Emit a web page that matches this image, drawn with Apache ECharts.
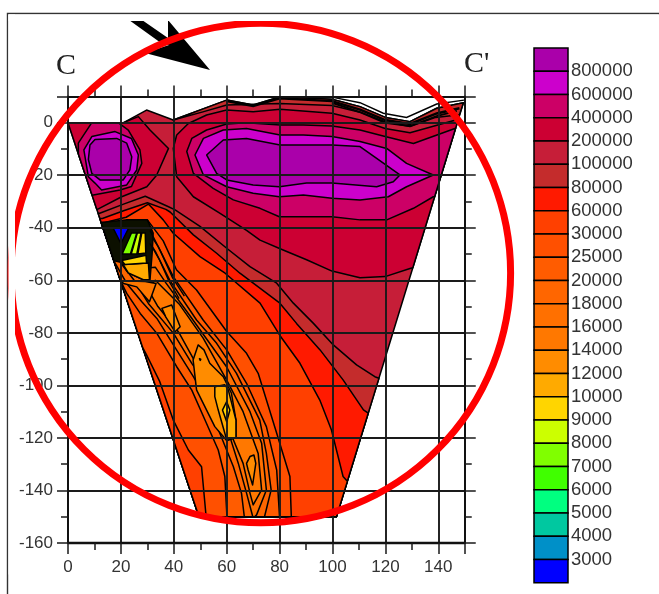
<!DOCTYPE html>
<html>
<head>
<meta charset="utf-8">
<style>
html, body { margin: 0; padding: 0; background: #fff; }
#chart { width: 659px; height: 594px; }
</style>
<script src="https://cdn.jsdelivr.net/npm/echarts@6/dist/echarts.min.js"></script>
</head>
<body>
<div id="chart"></div>
<script>
// colour scale, top cell to bottom cell
var cellColors = ['#aa00aa', '#cc00cc', '#cc0066', '#cc0033', '#c61e38', '#c42c2c', '#ff1a00', '#ff4000',
    '#ff5000', '#ff5c00', '#ff6600', '#ff7000', '#ff7800', '#ff8c00', '#ffaa00', '#ffd500',
    '#ccff00', '#80ff00', '#40ff00', '#00ff80', '#00c8a0', '#0090c8', '#0000ff'];
var cellLabels = ['800000', '600000', '400000', '200000', '100000', '80000', '60000', '30000', '25000', '20000', '18000',
    '16000', '14000', '12000', '10000', '9000', '8000', '7000', '6000', '5000', '4000', '3000'];

// section outline (distance, depth)
var section = [[0, 0], [21, 0], [29.7, 4.8], [39.8, 1], [60, 8.6], [70, 6.7], [80, 9.8], [99.8, 8.9], [110.4, 6.1], [120, 2],
    [129.3, 0.4], [139.4, 5.5], [149.5, 7.6], [101.5, -150], [49.5, -150]];

// contours, high resistivity side
var surfaceBand = [[39.8, 1], [60, 8.6], [70, 6.7], [80, 9.8], [99.8, 8.9], [110.4, 6.1], [120, 2], [129.3, 0.4], [139.4, 5.5], [149.5, 7.6],
    [148, 3], [139, 2], [129.3, -1.5], [120, 0.3], [110.4, 4], [99.8, 6.5], [80, 7.3], [60, 6.7], [51, 4.1]];
var left200k = [[0, 0], [21, 0], [26.6, 2.3], [31, -2.8], [38, -9.8], [33.5, -20], [29.8, -24.4], [20.3, -28.2], [10.8, -33.2], [-5, -33], [-5, 0]];
var left400k = [[9, 0], [3.9, -7.8], [4, -18], [5, -27], [9.6, -27.5], [19.7, -25.6], [24, -24.3], [27.9, -15.5], [27.2, -10.4], [22.8, -2.8], [19, 0]];
var left600k = [[6, -10.4], [9, -5.3], [17.8, -3.4], [24, -6], [26.6, -12.3], [26, -18], [22.2, -23.7], [12.7, -25.6], [10.2, -23], [7.7, -20.6]];
var left800k = [[8.3, -8.5], [10.2, -6.4], [18.4, -6], [22.2, -7.8], [24.1, -13], [23.4, -18], [20.9, -21.8], [12.1, -21.8], [9, -19.3], [7.7, -14]];
var right200k = [[39.8, -9.8], [41.1, -4.7], [45.5, -0.3], [52.4, 2.9], [60, 4.8], [70, 4.2], [80.2, 5.1], [99.8, 3.6], [110.4, 1], [119.9, -2.2],
    [129.3, -3.8], [150, 2], [150, -50], [129.3, -55.5], [119.9, -58.6], [110.4, -59], [99.8, -56.5], [90.2, -52.2], [80.2, -48], [72.6, -44.7],
    [67.5, -41], [57.5, -34.5], [47.4, -28.2], [41.1, -20.6]];
var right400k = [[44.9, -11], [46.8, -6], [52.4, -2.8], [60, -0.5], [67.5, 0], [80.2, -0.9], [89, -0.9], [99.8, -1.3], [110.4, -2.8], [119.9, -5.3],
    [130.6, -7.9], [150, -0.9], [150, -28], [138.1, -28.2], [130.6, -32.6], [120.5, -37], [110.4, -37], [99.8, -35.8], [79.9, -35.8],
    [72.6, -32.6], [62.5, -29.4], [54.9, -25], [47.4, -19.3]];
var right600k = [[48, -12.3], [51.2, -6], [58.7, -2.8], [67.5, -2.2], [80.2, -4.7], [89, -4.7], [99.8, -5.3], [110.4, -7.2], [120.5, -9.8], [128, -15.5],
    [138.1, -19.9], [128, -24.4], [121.1, -28.2], [110.4, -29.4], [99.8, -28.8], [89, -27.5], [79.9, -28.2], [70, -26.9], [60, -24.4], [51.2, -19.9]];
var right800k = [[52.4, -12.3], [58.7, -6.6], [67.5, -6], [80.2, -8.5], [99.8, -8.5], [110.4, -9.1], [116.7, -13.6], [125.5, -19.9], [123, -22.5],
    [116.7, -24.4], [99.8, -23], [90.2, -23], [79.9, -24.4], [70, -23.7], [60, -21.8], [56.2, -19.3]];

// low resistivity side, each one nested in the one before
var band100k = [[5, -34.5], [12, -34.5], [21, -31], [29.2, -28], [38, -32], [40.5, -33.2], [49.9, -39.5], [60, -47.8], [68.8, -54.8], [78.9, -61.1], [85.2, -68.7],
    [92.8, -76.4], [100.3, -84.6], [109.1, -92.2], [116, -96.7], [125, -100], [125, -155], [0, -155]];
var band80k = [[5, -36], [13, -36.5], [21, -33.5], [30, -30.5], [37, -33], [38.6, -34], [47.4, -42.7], [56.2, -49.7], [65, -57.3], [80.1, -68.7], [86.4, -76.4],
    [95.3, -86.5], [104, -97.9], [111.7, -109.3], [120, -115], [120, -155], [0, -155]];
var band60k = [[5, -38], [14, -38], [22, -36], [30.4, -31], [36, -37], [39.8, -42.1], [49.9, -51], [59.4, -57.3], [72.6, -68.7], [80.1, -81], [87.7, -91.6],
    [95.2, -105.6], [99.6, -117], [104, -134.7], [106, -137], [112, -138], [110, -155], [0, -155]];
var band30k = [[30, -37], [36, -45], [41, -56], [48.6, -63.7], [60, -79.5], [67.5, -87.8], [71.9, -95.4], [78.9, -118.2], [83.9, -134.7], [84.5, -152],
    [52.4, -152], [50.5, -131], [45.5, -124.6], [39.8, -113.2], [34.7, -98.6], [29.7, -88.4], [20, -70], [5, -40]];
var band25k = [[29.1, -39.5], [34.1, -47.2], [39.8, -58.6], [51.1, -75.1], [60, -86.5], [67.5, -99.2], [75, -115.7], [78.9, -132.2], [80.1, -152],
    [60.2, -152], [59.3, -134.7], [56.8, -124.6], [51.8, -113.2], [46.8, -101.8], [41.1, -92.9], [33.6, -80.2], [27.3, -72.6], [22.2, -65], [15, -50]];
var band20k = [[28, -41], [33, -49], [38.5, -60], [48.6, -75.1], [56.2, -84], [63.7, -95.4], [72.5, -113.2], [75, -125.9], [76.8, -139.8], [73.8, -152],
    [66.9, -152], [65.6, -141.1], [62.5, -130.9], [57.4, -118.2], [52.5, -105.6], [47.4, -96.7], [41.1, -86.6], [33.6, -74.5], [27.9, -68.2], [22.2, -61.2], [17, -52]];
var band18k = [[33, -55], [37, -61], [46.1, -73.5], [60, -93], [68.8, -110], [73.2, -122], [75, -139.8], [71.3, -149.3], [70, -150.5], [67.5, -141],
    [64.4, -129.7], [60, -115.7], [52.5, -100], [46.8, -91.6], [39.9, -80.2], [30.4, -68.8], [25, -60], [22, -56]];
var band16k = [[33, -60], [42, -69], [51.1, -82], [60, -98], [66.2, -110], [71.9, -125.9], [73.2, -139.8], [70, -145.5], [68.8, -141], [66.2, -129.7],
    [61, -117], [54, -100.5], [48, -91], [42, -80], [34, -70], [30, -63]];
var wedgeNearTop = [[19.7, -60.2], [29.2, -60.5], [33.3, -61.2], [30.8, -68.2], [26, -62.5], [21, -61.2]];
var smallLoopTop = [[35.5, -70.7], [39.2, -69.4], [42.4, -77.7], [40.5, -79.6], [37, -74]];
var coreLoop = [[49.2, -84.6], [47.3, -90.3], [48.6, -101.7], [55.5, -115.7], [60, -121], [63.5, -119.8], [63.5, -113.2], [61.8, -103], [58.7, -96.7], [53.6, -91.6], [51.4, -86.5]];
var coreInner = [[55.5, -100.5], [59.3, -99.8], [60.6, -101.7], [63.5, -113.2], [63.5, -119.8], [60, -121], [59.3, -118.2], [56.8, -109.4], [55.5, -104.3]];
var coreDiamond = [[60, -106.2], [61.2, -109.4], [60, -113.8], [58.4, -109.4]];
var coreDot = [[49.7, -89.8], [50.2, -90], [50, -90.5]];
var lowerLoop = [[68.8, -127.1], [70.3, -126.5], [71, -129.7], [69.8, -137.9], [68.1, -132.2], [67.5, -129.7]];

// the tight bunch of lines by the minimum
var bunch = [[5, -37], [12.7, -38], [22, -37], [30, -37], [32.2, -42], [31.8, -50], [31, -59.8], [28.5, -59.8], [22.8, -57.2], [19.6, -53], [5, -50]];
var yellowLow = [[20.9, -54], [30.4, -53.4], [30.8, -59.8], [28.5, -59.8], [22.8, -57.2]];
var yellowRect = [[20.3, -52.5], [29.5, -50.5], [29.7, -53.4], [21.5, -54]];
var yellowFan = [[26.4, -50], [27.9, -42], [29.2, -42], [29.4, -49.6]];
var limeFan = [[23.9, -50], [26.2, -42], [27.6, -42], [26, -50]];
var greenFan = [[20.5, -50], [24, -42], [26, -42], [23.6, -50]];
var blueVee = [[17, -40], [23, -40], [20, -46]];
var bunchLineA = [[31, -41], [35, -49], [39.5, -59], [44, -66]];
var bunchLineB = [[31, -46], [34.5, -52], [38, -60], [42, -67]];

// surface lines that run along the top
var rimOuter = [[99.8, 9.7], [110.4, 7.6], [119.2, 3.6], [128, 2], [139.4, 7.1], [149.7, 8.6]];
var rimInner = [[60, 8.2], [70, 6.3], [80, 9.3], [99.8, 8.2], [110.4, 5], [119.9, 1], [129.3, -0.5], [139.4, 3.5], [148, 5.5]];
var rimLower = [[99.8, 7.6], [110.4, 4], [119.9, 0], [129.3, -1.3], [139.4, 2.5], [147, 4.5]];

var layers = [
    { pts: section, cell: 4 }, { pts: surfaceBand, cell: 5 },
    { pts: left200k, cell: 3 }, { pts: right200k, cell: 3 },
    { pts: left400k, cell: 2 }, { pts: right400k, cell: 2 },
    { pts: left600k, cell: 1 }, { pts: right600k, cell: 1 },
    { pts: left800k, cell: 0 }, { pts: right800k, cell: 0 },
    { pts: band100k, cell: 5 }, { pts: band80k, cell: 6 }, { pts: band60k, cell: 7 },
    { pts: band30k, cell: 8 }, { pts: band25k, cell: 9 }, { pts: band20k, cell: 10 },
    { pts: band18k, cell: 11 }, { pts: band16k, cell: 12 },
    { pts: wedgeNearTop, cell: 12 }, { pts: smallLoopTop, cell: 13 },
    { pts: coreLoop, cell: 13 }, { pts: lowerLoop, cell: 13 }, { pts: coreInner, cell: 14 },
    { pts: coreDiamond, cell: 15 }, { pts: coreDot, cell: 15 },
    { pts: bunch, fill: '#0c1000' },
    { pts: yellowLow, cell: 14 }, { pts: yellowRect, cell: 15 },
    { pts: yellowFan, cell: 15 }, { pts: limeFan, cell: 16 }, { pts: greenFan, cell: 17 }, { pts: blueVee, cell: 22 },
    { pts: bunchLineA, open: true, width: 1.4 }, { pts: bunchLineB, open: true, width: 1.4 },
    { pts: rimLower, open: true, width: 2 }, { pts: rimInner, open: true, width: 2.4 }, { pts: rimOuter, open: true, width: 1.4 }
];

// keep a polygon on one side of a line (a -> b)
function clipSide(pts, a, b) {
    var out = [];
    function side(p) { return (b[0] - a[0]) * (p[1] - a[1]) - (b[1] - a[1]) * (p[0] - a[0]); }
    pts.forEach(function (p, i) {
        var q = pts[(i + 1) % pts.length], sp = side(p), sq = side(q);
        if (sp >= 0) out.push(p);
        if ((sp >= 0) !== (sq >= 0)) {
            var t = sp / (sp - sq);
            out.push([p[0] + t * (q[0] - p[0]), p[1] + t * (q[1] - p[1])]);
        }
    });
    return out;
}
function clipToSection(pts) {
    var r = clipSide(pts, [0, 0], [49.5, -150]);
    r = clipSide(r, [49.5, -150], [101.5, -150]);
    return clipSide(r, [101.5, -150], [149.5, 7.6]);
}
var drawn = layers.map(function (l) { return l.open ? l.pts : clipToSection(l.pts); });

function renderContour(params, api) {
    var l = layers[api.value(0)];
    var points = drawn[api.value(0)].map(function (p) { return api.coord(p); });
    if (l.open) {
        return { type: 'polyline', shape: { points: points }, style: { fill: null, stroke: '#000', lineWidth: l.width } };
    }
    return {
        type: 'polygon', shape: { points: points },
        style: { fill: l.fill || cellColors[l.cell], stroke: '#000', lineWidth: 1.5, lineJoin: 'round' }
    };
}

function renderCell(params, api) {
    var i = api.value(0);
    var a = api.coord([0, i]), b = api.coord([1, i + 1]);
    return {
        type: 'rect', shape: { x: a[0], y: a[1], width: b[0] - a[0], height: b[1] - a[1] },
        style: { fill: cellColors[i], stroke: '#000', lineWidth: 1.5 }
    };
}

var textColor = '#333';
var font = 'Liberation Sans';
var lineColor = '#1a1a1a';

function scaleAxis(extra) {
    var base = {
        type: 'value', gridIndex: 0, z: 10,
        axisLine: { show: false, onZero: false },
        axisTick: { show: true, length: 7, lineStyle: { color: lineColor, width: 1.5 } },
        axisLabel: { show: false },
        splitLine: { show: false }
    };
    return Object.assign(base, extra);
}
function majorLine(width) { return { show: true, onZero: false, lineStyle: { color: '#111', width: width } }; }
function majorTick() { return { show: true, length: 11, lineStyle: { color: lineColor, width: 1.5 } }; }

var xRange = { min: 0, max: 150 };
var yRange = { min: -160, max: 10 };

var option = {
    animation: false,
    backgroundColor: '#fff',
    grid: [
        { left: 68, top: 96.4, width: 396.75, height: 446.6 },
        { left: 534, top: 48, width: 34, height: 534.7 }
    ],
    xAxis: [
        scaleAxis(Object.assign({
            position: 'bottom', interval: 20, axisLine: majorLine(2.4), axisTick: majorTick(),
            splitLine: { show: true, lineStyle: { color: lineColor, width: 1.9 } },
            axisLabel: {
                show: true, margin: 16, color: textColor, fontFamily: font, fontSize: 17,
                formatter: function (v) { return v === 150 ? '' : String(v); }
            }
        }, xRange)),
        scaleAxis(Object.assign({ position: 'top', interval: 20, axisLine: majorLine(1.9), axisTick: majorTick() }, xRange)),
        scaleAxis(Object.assign({ position: 'bottom', interval: 10 }, xRange)),
        scaleAxis(Object.assign({ position: 'top', interval: 10 }, xRange)),
        { type: 'value', gridIndex: 1, min: 0, max: 1, show: false }
    ],
    yAxis: [
        scaleAxis(Object.assign({
            position: 'left', interval: 20, axisLine: majorLine(1.9), axisTick: majorTick(),
            splitLine: { show: true, lineStyle: { color: lineColor, width: 1.9 } },
            axisLabel: {
                show: true, margin: 15, color: textColor, fontFamily: font, fontSize: 17,
                formatter: function (v) { return v === 10 ? '' : String(v); }
            }
        }, yRange)),
        scaleAxis(Object.assign({ position: 'right', interval: 20, axisLine: majorLine(1.9), axisTick: majorTick() }, yRange)),
        scaleAxis(Object.assign({ position: 'left', interval: 10 }, yRange)),
        scaleAxis(Object.assign({ position: 'right', interval: 10 }, yRange)),
        {
            type: 'value', gridIndex: 1, min: 0, max: 23, interval: 1, inverse: true, position: 'right',
            axisLine: { show: false, onZero: false }, axisTick: { show: false }, splitLine: { show: false },
            axisLabel: {
                margin: 3, color: textColor, fontFamily: font, fontSize: 18.5,
                formatter: function (v) { return cellLabels[v - 1] || ''; }
            }
        }
    ],
    series: [
        {
            type: 'custom', xAxisIndex: 0, yAxisIndex: 0, z: 2, silent: true,
            renderItem: renderContour, clip: false,
            data: layers.map(function (l, i) { return [i]; }), encode: { x: -1, y: -1 }
        },
        {
            type: 'custom', xAxisIndex: 4, yAxisIndex: 4, z: 2, silent: true,
            renderItem: renderCell, clip: false,
            data: cellColors.map(function (c, i) { return [i]; }), encode: { x: -1, y: -1 }
        }
    ],
    graphic: [
        // page frame of the scan
        { type: 'polyline', z: 1, shape: { points: [[7.5, 594], [7.5, 13.5], [659, 13.5]] }, style: { fill: null, stroke: '#333', lineWidth: 1.4 } },
        // hand drawn annotation
        {
            type: 'polygon', z: 100,
            shape: { points: [[129, 20], [142, 20], [168, 38], [168, 20], [210, 70], [145, 53], [169, 45], [161, 43]] },
            style: { fill: '#000' }
        },
        {
            type: 'circle', z: 101, shape: { cx: 260.8, cy: 273, r: 249.8 },
            style: { fill: null, stroke: '#ff0000', lineWidth: 7 }
        },
        { type: 'rect', z: 102, shape: { x: 8.5, y: 14.5, width: 650, height: 6.5 }, style: { fill: '#fff' } },
        { type: 'rect', z: 102, shape: { x: 8.5, y: 14.5, width: 6.5, height: 560 }, style: { fill: '#fff' } },
        { type: 'text', z: 103, x: 56, y: 51, style: { text: 'C', font: "30px 'Liberation Serif'", fill: '#222' } },
        { type: 'text', z: 103, x: 464, y: 49, style: { text: "C'", font: "30px 'Liberation Serif'", fill: '#222' } }
    ]
};

var myChart = echarts.init(document.getElementById('chart'), null, { renderer: 'canvas' });
myChart.setOption(option);
</script>
</body>
</html>
